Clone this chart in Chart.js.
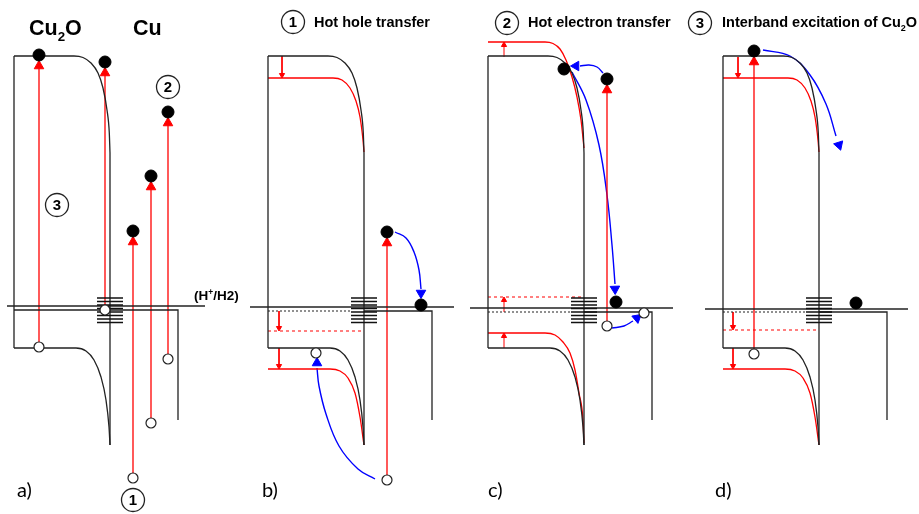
<!DOCTYPE html>
<html>
<head>
<meta charset="utf-8">
<title>Cu2O / Cu band diagram</title>
<script src="https://cdn.jsdelivr.net/npm/chart.js@4.4.1/dist/chart.umd.min.js"></script>
<style>
    html, body { margin: 0; padding: 0; background: #fff; }
    #box { width: 919px; height: 514px; }
</style>
</head>
<body>
<div id="box"><canvas id="bandChart" width="919" height="514"></canvas></div>
<script>
// Diagram units: x = 0..919 across, y = 0..514 downwards (higher energy = smaller y)
var panelLeft = [14, 268, 488, 723];          // left edge of the Cu2O block in a) b) c) d)
var panelShift = ['none', 'down', 'up', 'down'];
var panelLetters = ['a)', 'b)', 'c)', 'd)'];
var letterX = [17, 262, 488, 715];
var redoxY = [306, 307, 308, 309];
var redoxFrom = [7, 250, 470, 705];
var redoxTo = [205, 454, 673, 908];
var metalY = [310, 311, 312, 312];
var quasiFermiY = [null, 331, 297, 330];
var hatchY = [298, 301.5, 305, 308.5, 312, 315.5, 319, 322.5];

// band edges, x relative to the panel's left edge
var cbEdge = [[0, 56], [60, 56], [69, 57.5], [77, 63], [84, 73], [89, 88], [93, 110], [95.3, 133], [96, 153]];
var vbEdge = [[0, 348], [62, 348], [72, 351], [80, 360], [87, 377], [92, 400], [95, 427], [96, 445]];
var cbDown = [[0, 78], [65, 78], [74, 80], [82, 88], [88, 101], [92, 117], [95, 140], [96, 152]];
var vbDown = [[0, 369], [62, 369], [72, 371], [80, 378], [87, 393], [92, 417], [96, 445]];
var cbUp = [[0, 42], [57, 42], [65, 43.5], [72, 49], [78, 60], [84, 77], [89, 97], [93, 120], [96, 148]];
var vbUp = [[0, 333], [57, 333], [67, 335], [75, 342], [82, 353], [87, 370], [91, 393], [95, 420], [96, 443]];

// photo-excitations: hole level -> electron level
var exciteX = [39, 105, 133, 151, 168, 387, 607, 754];
var holeY = [347, 310, 478, 423, 359, 480, 326, 354];
var electronY = [55, 62, 231, 176, 112, 232, 79, 51];
var transferredElectrons = [[421, 305], [564, 69], [616, 302], [856, 303]];
var transferredHoles = [[316, 353], [644, 313]];

// band shift arrows
var shiftX = [282, 279, 279, 504, 504, 504, 738, 733, 733];
var shiftFrom = [56, 311, 348, 57, 312, 348, 57, 312, 348];
var shiftTo = [78, 331, 369, 42, 297, 333, 78, 330, 369];

// charge transfer paths
var bluePaths = [
    [[395, 232], [406, 238], [414, 252], [419, 270], [421, 289]],
    [[375, 479], [358, 469], [339, 446], [326, 414], [319, 386], [317, 368]],
    [[603, 73], [597, 67], [589, 65], [580, 66]],
    [[572, 72], [586, 100], [599, 145], [607, 195], [612, 245], [615, 284]],
    [[612, 328], [624, 326], [633, 321]],
    [[763, 50], [790, 56], [810, 75], [826, 104], [836, 136]]
];
var blueHeads = [[421, 293], [317, 363], [576, 66], [615, 289], [637, 318], [839, 145]];
var blueHeadAngle = [180, 0, 270, 178, 50, 162];

var circledText = ['2', '3', '1', '1', '2', '3'];
var circledAt = [[168, 87], [57, 205], [133, 500], [293, 22], [507, 23], [700, 23]];
var titles = [
    [['Hot hole transfer', 0]],
    [['Hot electron transfer', 0]],
    [['Interband excitation of Cu', 0], ['2', 1], ['O', 0]]
];
var titleX = [314, 528, 722];

document.addEventListener('DOMContentLoaded', function () {
    var BLACK = '#222222', RED = '#ff0000', BLUE = '#0000ff';
    var datasets = [];

    function toXY(list, dx) {
        return list.map(function (p) {
            return p ? { x: p[0] + (dx || 0), y: p[1] } : { x: null, y: null };
        });
    }

    function addLine(list, dx, color, width, extra) {
        var ds = {
            data: toXY(list, dx),
            showLine: true,
            borderColor: color,
            borderWidth: width,
            pointRadius: 0,
            pointHoverRadius: 0,
            fill: false,
            spanGaps: false,
            order: 3
        };
        datasets.push(Object.assign(ds, extra || {}));
    }

    function addPoints(list, style, radius, fillColor, edgeColor, edgeWidth, rotation, order) {
        datasets.push({
            data: toXY(list, 0),
            showLine: false,
            pointStyle: style,
            pointRadius: radius,
            pointHoverRadius: radius,
            pointBackgroundColor: fillColor,
            pointBorderColor: edgeColor,
            pointBorderWidth: edgeWidth,
            pointRotation: rotation || 0,
            order: order
        });
    }

    var curved = { cubicInterpolationMode: 'monotone' };

    panelLeft.forEach(function (L, i) {
        // Cu2O block
        addLine([[0, cbEdge[0][1]], [0, vbEdge[0][1]]], L, BLACK, 1.3);
        addLine(cbEdge, L, BLACK, 1.3, curved);
        addLine(vbEdge, L, BLACK, 1.3, curved);
        addLine([[96, 153], [96, 445]], L, BLACK, 1.3);
        if (panelShift[i] === 'down') {
            addLine(cbDown, L, RED, 1.3, curved);
            addLine(vbDown, L, RED, 1.3, curved);
        }
        if (panelShift[i] === 'up') {
            addLine(cbUp, L, RED, 1.3, curved);
            addLine(vbUp, L, RED, 1.3, curved);
        }
        // H+/H2 level
        addLine([[redoxFrom[i], redoxY[i]], [redoxTo[i], redoxY[i]]], 0, BLACK, 1.3);
        // Fermi level and Cu
        if (i === 0) {
            addLine([[0, metalY[i]], [164, metalY[i]], [164, 420]], L, BLACK, 1.3);
        } else {
            addLine([[0, metalY[i]], [83, metalY[i]]], L, BLACK, 1.2, { borderDash: [2, 2] });
            addLine([[96, metalY[i]], [164, metalY[i]], [164, 420]], L, BLACK, 1.3);
            addLine([[0, quasiFermiY[i]], [96, quasiFermiY[i]]], L, RED, 1.2, { borderDash: [3, 3] });
        }
        // surface states
        var hatch = [];
        hatchY.forEach(function (y) { hatch.push([83, y], [109, y], null); });
        addLine(hatch, L, '#111111', 1.5, { order: 2 });
    });

    // excitation arrows
    var heads = [];
    exciteX.forEach(function (x, k) {
        addLine([[x, holeY[k]], [x, electronY[k] + 11]], 0, RED, 1.3);
        heads.push([x, electronY[k] + 11]);
    });
    addPoints(heads, 'triangle', 5.5, RED, RED, 1, 0, 2);

    // band shift arrows
    var shiftHeads = [], shiftRot = [];
    shiftX.forEach(function (x, k) {
        var dir = shiftTo[k] > shiftFrom[k] ? 1 : -1;
        var c = shiftTo[k] - dir * 3;
        addLine([[x, shiftFrom[k]], [x, c]], 0, RED, 1);
        shiftHeads.push([x, c]);
        shiftRot.push(dir > 0 ? 180 : 0);
    });
    addPoints(shiftHeads, 'triangle', 3, RED, RED, 1, shiftRot, 2);

    // charge transfer
    bluePaths.forEach(function (p) { addLine(p, 0, BLUE, 1.4, { tension: 0.4 }); });
    addPoints(blueHeads, 'triangle', 5.5, BLUE, BLUE, 1, blueHeadAngle, 2);

    // electrons and holes
    var electrons = exciteX.map(function (x, k) { return [x, electronY[k]]; }).concat(transferredElectrons);
    var holes = exciteX.map(function (x, k) { return [x, holeY[k]]; }).concat(transferredHoles);
    addPoints(electrons, 'circle', 6, '#000', '#000', 1, 0, 1);
    addPoints(holes, 'circle', 5, '#fff', BLACK, 1.2, 0, 1);

    // numbered circles
    addPoints(circledAt, 'circle', 11.5, '#fff', BLACK, 1.3, 0, 1);

    var textPlugin = {
        id: 'diagramText',
        afterDatasetsDraw: function (chart) {
            var c = chart.ctx, sx = chart.scales.x, sy = chart.scales.y;
            var sans = '"Liberation Sans", Arial, sans-serif';
            function px(x) { return sx.getPixelForValue(x); }
            function py(y) { return sy.getPixelForValue(y); }
            function rich(parts, x, y, size) {
                c.textAlign = 'left';
                c.textBaseline = 'alphabetic';
                parts.forEach(function (p) {
                    var s = p[1] ? size * 0.62 : size;
                    var dy = p[1] === 1 ? size * 0.3 : (p[1] === -1 ? -size * 0.38 : 0);
                    c.font = 'bold ' + s + 'px ' + sans;
                    c.fillText(p[0], x, y + dy);
                    x += c.measureText(p[0]).width;
                });
            }
            c.save();
            c.fillStyle = '#000';
            rich([['Cu', 0], ['2', 1], ['O', 0]], px(29), py(35), 21.5);
            rich([['Cu', 0]], px(133), py(35), 21.5);
            rich([['(H', 0], ['+', -1], ['/H2)', 0]], px(194), py(300), 13.5);
            titles.forEach(function (t, k) { rich(t, px(titleX[k]), py(27), 14.5); });

            c.textAlign = 'center';
            c.textBaseline = 'middle';
            c.font = 'bold 15px ' + sans;
            circledText.forEach(function (t, k) {
                c.fillText(t, px(circledAt[k][0]), py(circledAt[k][1]) + 1);
            });

            c.textAlign = 'left';
            c.textBaseline = 'alphabetic';
            c.font = '20px Lato, "Open Sans", sans-serif';
            panelLetters.forEach(function (t, k) { c.fillText(t, px(letterX[k]), py(497)); });
            c.restore();
        }
    };

    new Chart(document.getElementById('bandChart').getContext('2d'), {
        type: 'scatter',
        data: { datasets: datasets },
        options: {
            responsive: false,
            animation: false,
            events: [],
            layout: { padding: 0, autoPadding: false },
            plugins: { legend: { display: false }, tooltip: { enabled: false } },
            scales: {
                x: { type: 'linear', min: 0, max: 919, display: false },
                y: { type: 'linear', min: 0, max: 514, reverse: true, display: false }
            }
        },
        plugins: [textPlugin]
    });
});
</script>
</body>
</html>
